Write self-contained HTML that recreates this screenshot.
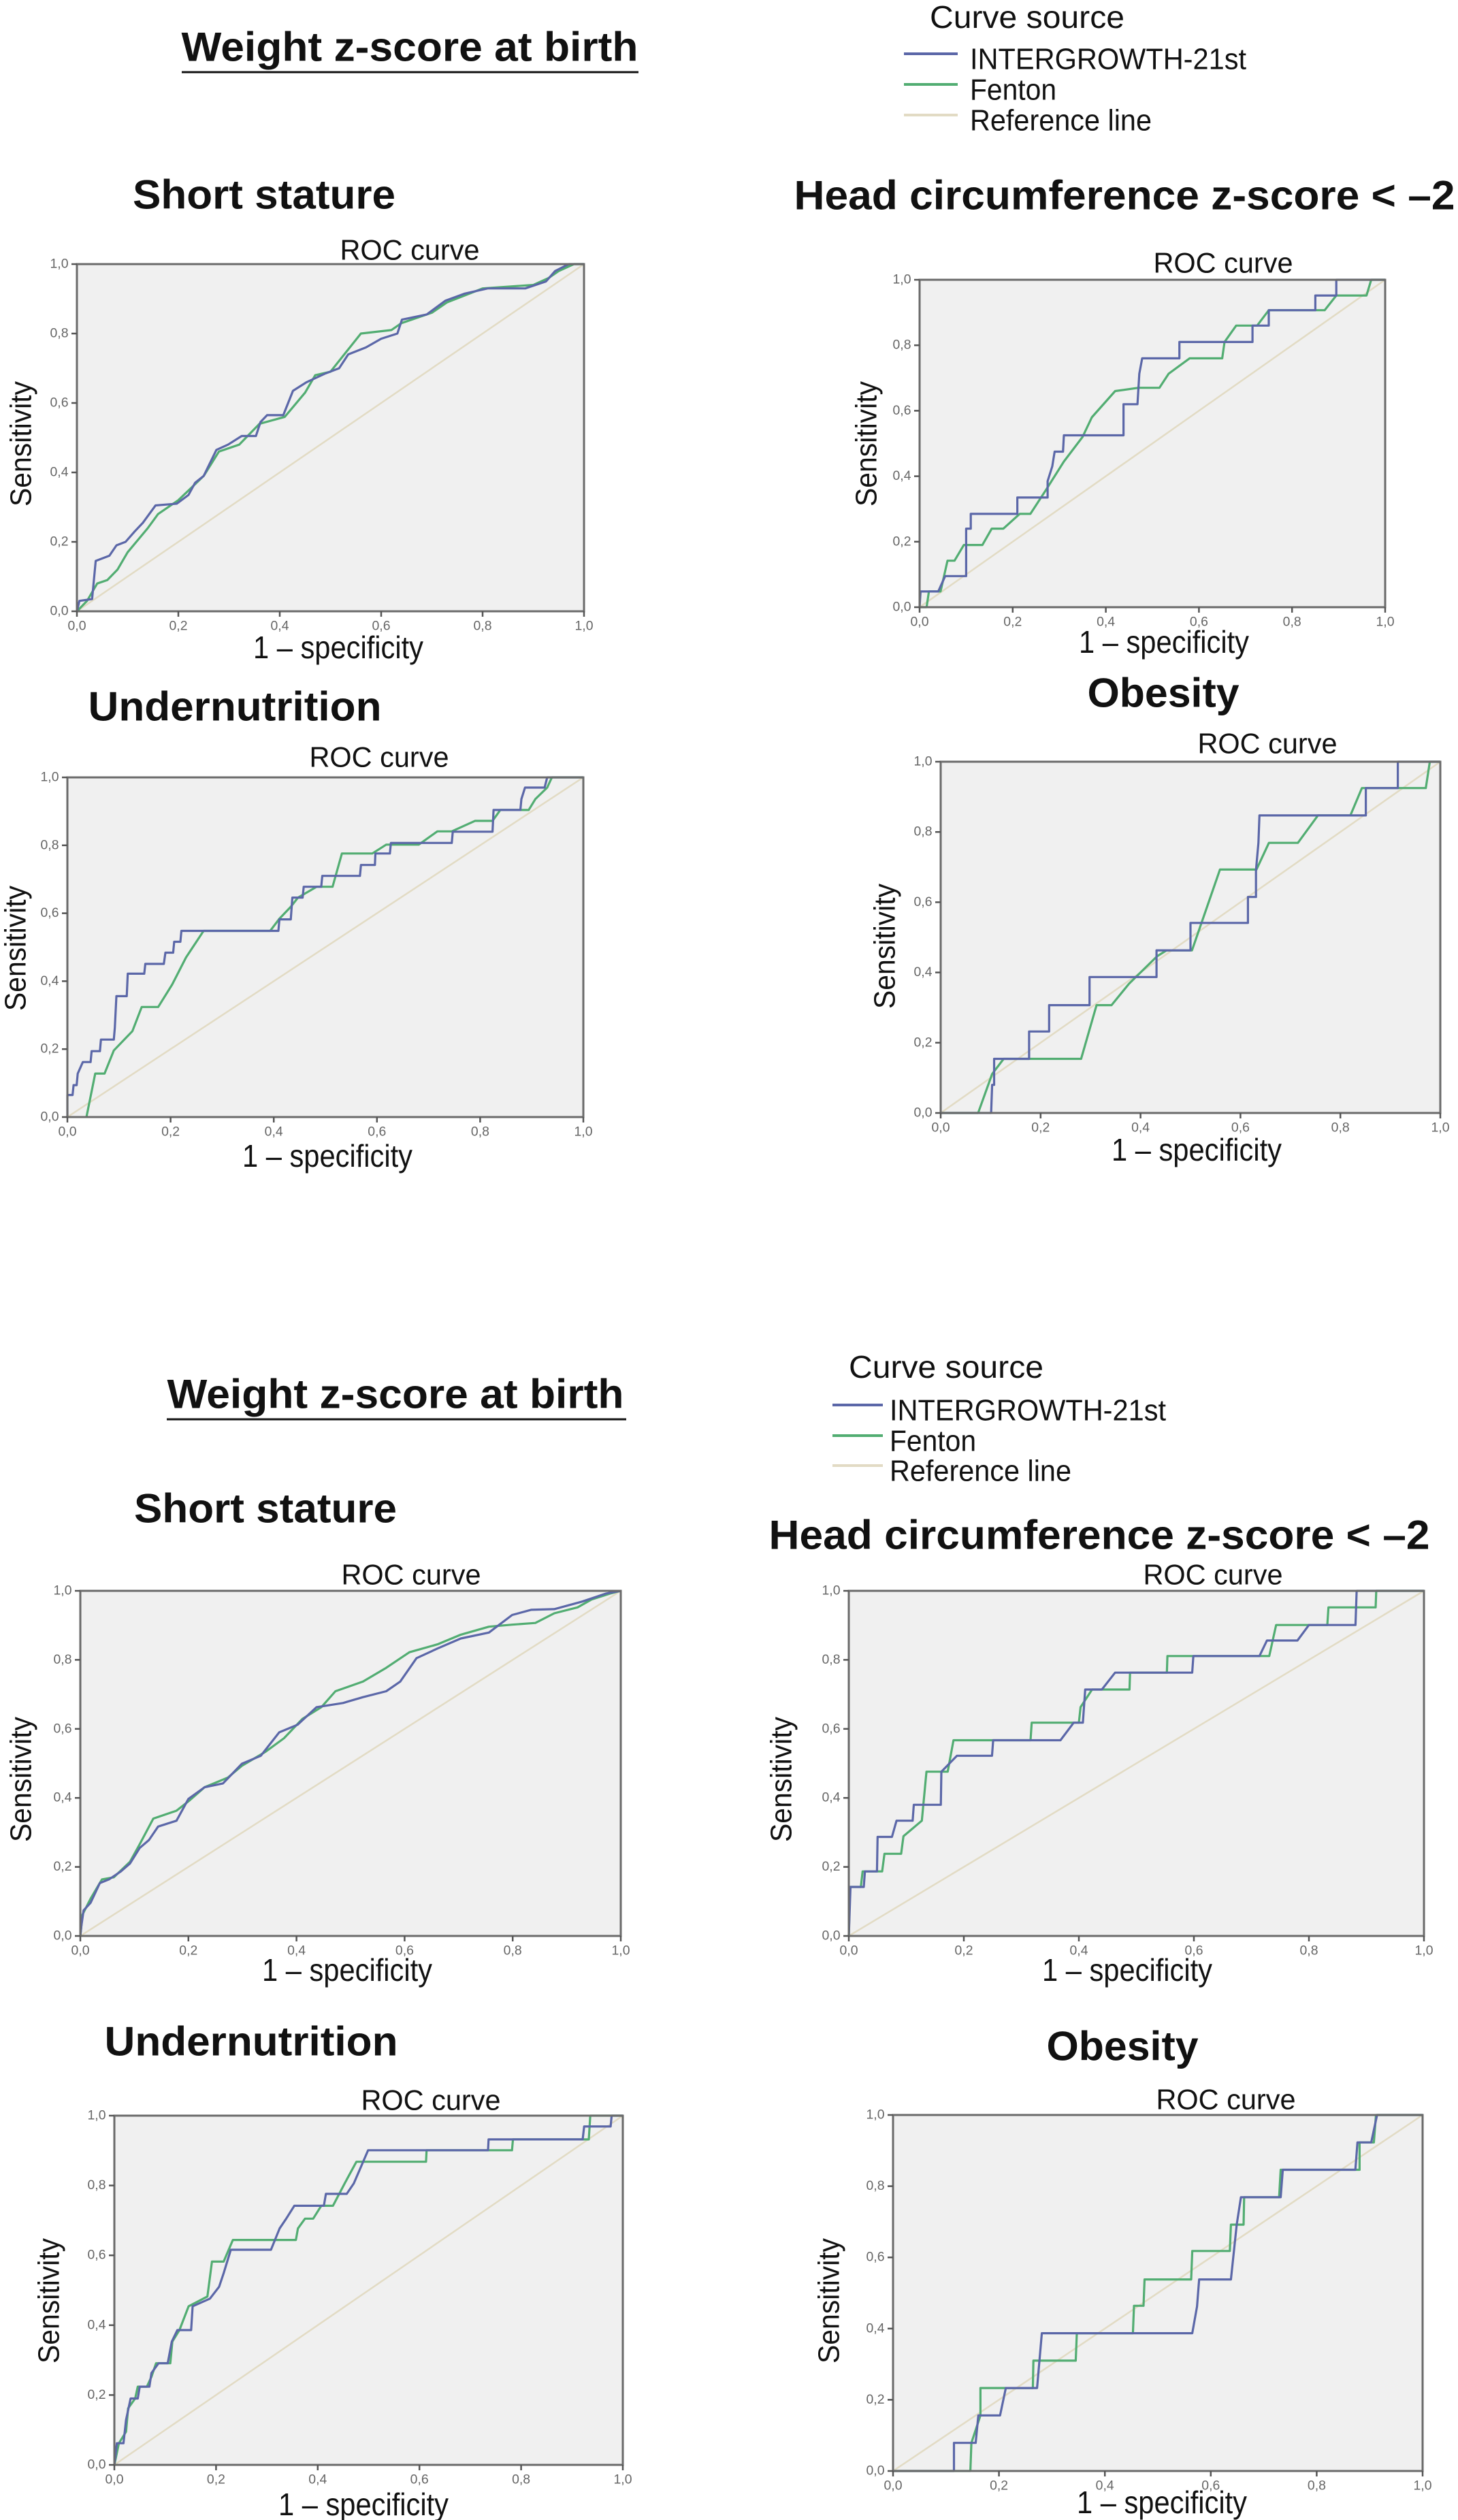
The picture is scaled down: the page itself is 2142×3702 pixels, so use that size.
<!DOCTYPE html>
<html><head><meta charset="utf-8">
<style>
html,body{margin:0;padding:0;background:#fff;}
svg{display:block;}
text{font-family:"Liberation Sans",Arial,sans-serif;}
</style></head>
<body>
<svg id="fig" xmlns="http://www.w3.org/2000/svg" width="2142" height="3702" viewBox="0 0 2142 3702">
  <rect x="0" y="0" width="2142" height="3702" fill="#fff"/>
</svg>
<script>
// ---- data: each panel has x and y arrays for INTERGROWTH (ig) and Fenton (fe) ----
const A_igX=[0,0.005,0.03,0.037,0.064,0.078,0.096,0.114,0.13,0.155,0.197,0.22,0.233,0.25,0.275,0.298,0.325,0.353,0.362,0.375,0.407,0.426,0.453,0.49,0.517,0.535,0.57,0.6,0.632,0.641,0.69,0.727,0.765,0.81,0.884,0.925,0.943,0.97,1];
const A_igY=[0,0.03,0.035,0.145,0.16,0.19,0.2,0.23,0.255,0.305,0.31,0.335,0.37,0.39,0.465,0.48,0.505,0.505,0.545,0.565,0.565,0.635,0.66,0.685,0.7,0.74,0.76,0.785,0.8,0.84,0.855,0.895,0.915,0.93,0.93,0.95,0.98,1,1];
const A_feX=[0,0.02,0.04,0.06,0.08,0.1,0.14,0.16,0.2,0.25,0.28,0.32,0.36,0.41,0.45,0.47,0.5,0.56,0.62,0.64,0.7,0.73,0.8,0.9,0.93,0.95,0.98,1];
const A_feY=[0,0.03,0.08,0.09,0.12,0.17,0.24,0.28,0.32,0.39,0.46,0.48,0.54,0.56,0.63,0.68,0.69,0.8,0.81,0.83,0.86,0.89,0.93,0.94,0.96,0.98,1,1];

const B_igX=[0,0.002,0.04,0.055,0.1,0.1,0.11,0.11,0.21,0.21,0.275,0.275,0.285,0.29,0.308,0.31,0.438,0.438,0.468,0.472,0.478,0.558,0.558,0.715,0.715,0.75,0.75,0.85,0.85,0.895,0.895,1];
const B_igY=[0,0.048,0.048,0.095,0.095,0.24,0.24,0.285,0.285,0.335,0.335,0.385,0.43,0.475,0.475,0.525,0.525,0.62,0.62,0.713,0.76,0.76,0.81,0.81,0.86,0.86,0.907,0.907,0.952,0.952,1,1];
const B_feX=[0,0.015,0.02,0.045,0.06,0.075,0.095,0.135,0.155,0.18,0.215,0.238,0.27,0.31,0.35,0.37,0.42,0.47,0.515,0.535,0.58,0.65,0.655,0.68,0.725,0.75,0.87,0.895,0.96,0.97,1];
const B_feY=[0,0,0.048,0.048,0.142,0.142,0.19,0.19,0.24,0.24,0.285,0.285,0.355,0.445,0.52,0.58,0.66,0.67,0.67,0.713,0.76,0.76,0.81,0.86,0.86,0.907,0.907,0.952,0.952,1,1];

const C_igX=[0,0,0.01,0.012,0.018,0.02,0.03,0.045,0.047,0.063,0.065,0.09,0.092,0.095,0.115,0.117,0.149,0.151,0.187,0.19,0.205,0.207,0.219,0.221,0.409,0.411,0.433,0.436,0.456,0.458,0.492,0.494,0.567,0.569,0.596,0.597,0.625,0.627,0.745,0.747,0.824,0.826,0.878,0.88,0.887,0.925,0.93,1];
const C_igY=[0,0.065,0.065,0.094,0.094,0.128,0.162,0.162,0.194,0.194,0.228,0.228,0.263,0.356,0.356,0.422,0.422,0.451,0.451,0.484,0.484,0.516,0.516,0.548,0.548,0.582,0.582,0.646,0.646,0.678,0.678,0.71,0.71,0.742,0.742,0.776,0.776,0.807,0.807,0.84,0.84,0.904,0.904,0.936,0.97,0.97,1,1];
const C_feX=[0.037,0.054,0.072,0.09,0.126,0.144,0.176,0.203,0.23,0.264,0.393,0.411,0.433,0.447,0.483,0.514,0.532,0.591,0.618,0.681,0.717,0.745,0.79,0.824,0.839,0.894,0.907,0.93,0.939,1];
const C_feY=[0,0.128,0.128,0.196,0.253,0.324,0.324,0.39,0.47,0.548,0.548,0.584,0.619,0.646,0.678,0.678,0.776,0.776,0.802,0.802,0.841,0.841,0.872,0.872,0.904,0.904,0.936,0.97,1,1];

const D_igX=[0,0.101,0.103,0.107,0.107,0.177,0.177,0.217,0.217,0.298,0.298,0.432,0.432,0.5,0.5,0.615,0.615,0.631,0.631,0.636,0.638,0.851,0.851,0.915,0.915,1];
const D_igY=[0,0,0.08,0.08,0.154,0.154,0.232,0.232,0.307,0.307,0.387,0.387,0.463,0.463,0.541,0.541,0.615,0.615,0.691,0.769,0.847,0.847,0.925,0.925,1,1];
const D_feX=[0,0.075,0.103,0.126,0.281,0.312,0.342,0.377,0.433,0.452,0.503,0.559,0.632,0.657,0.715,0.755,0.82,0.843,0.971,0.979,1];
const D_feY=[0,0,0.111,0.154,0.154,0.307,0.307,0.368,0.446,0.463,0.463,0.693,0.693,0.769,0.769,0.847,0.847,0.925,0.925,1,1];

const E_igX=[0,0.002,0.006,0.019,0.036,0.053,0.075,0.092,0.11,0.127,0.144,0.178,0.2,0.23,0.264,0.299,0.334,0.368,0.402,0.437,0.486,0.523,0.566,0.592,0.622,0.661,0.704,0.756,0.799,0.834,0.877,0.929,0.972,1];
const E_igY=[0,0.03,0.074,0.096,0.153,0.164,0.187,0.21,0.255,0.278,0.317,0.334,0.397,0.431,0.442,0.499,0.522,0.59,0.612,0.663,0.675,0.692,0.709,0.737,0.805,0.833,0.862,0.879,0.93,0.945,0.947,0.969,0.992,1];
const E_feX=[0,0.004,0.019,0.04,0.062,0.092,0.11,0.135,0.178,0.2,0.23,0.273,0.299,0.342,0.377,0.411,0.446,0.472,0.523,0.566,0.609,0.661,0.704,0.756,0.799,0.842,0.877,0.92,0.946,0.98,1];
const E_feY=[0,0.062,0.108,0.164,0.17,0.215,0.266,0.34,0.363,0.39,0.431,0.459,0.493,0.533,0.573,0.629,0.663,0.709,0.737,0.777,0.822,0.845,0.873,0.896,0.902,0.907,0.935,0.952,0.975,0.992,1];

const F_igX=[0,0.003,0.026,0.028,0.049,0.05,0.075,0.083,0.111,0.113,0.16,0.161,0.188,0.249,0.251,0.368,0.391,0.407,0.411,0.44,0.463,0.597,0.599,0.714,0.727,0.78,0.8,0.881,0.883,1];
const F_igY=[0,0.142,0.142,0.187,0.187,0.287,0.287,0.334,0.334,0.38,0.38,0.476,0.522,0.522,0.567,0.567,0.618,0.618,0.714,0.714,0.763,0.763,0.811,0.811,0.856,0.856,0.901,0.901,1,1];
const F_feX=[0,0.002,0.021,0.024,0.058,0.062,0.091,0.095,0.127,0.135,0.172,0.182,0.316,0.318,0.4,0.403,0.423,0.488,0.489,0.553,0.554,0.731,0.743,0.832,0.834,0.916,0.917,1];
const F_feY=[0,0.142,0.142,0.187,0.187,0.238,0.238,0.289,0.334,0.476,0.476,0.567,0.567,0.618,0.618,0.663,0.714,0.714,0.763,0.763,0.811,0.811,0.901,0.901,0.952,0.952,1,1];

const G_igX=[0,0.005,0.018,0.023,0.032,0.046,0.05,0.069,0.073,0.087,0.105,0.113,0.124,0.151,0.154,0.188,0.206,0.215,0.229,0.308,0.325,0.338,0.354,0.412,0.416,0.457,0.471,0.499,0.735,0.736,0.921,0.924,0.976,0.978,1];
const G_igY=[0,0.062,0.062,0.129,0.19,0.19,0.224,0.224,0.263,0.291,0.291,0.353,0.386,0.386,0.454,0.476,0.51,0.549,0.616,0.616,0.677,0.705,0.742,0.742,0.776,0.776,0.806,0.901,0.901,0.932,0.932,0.969,0.969,1,1];
const G_feX=[0,0.009,0.023,0.027,0.041,0.046,0.064,0.073,0.082,0.11,0.114,0.128,0.146,0.183,0.192,0.215,0.233,0.357,0.361,0.375,0.391,0.407,0.43,0.453,0.476,0.613,0.614,0.782,0.784,0.933,0.936,1];
const G_feY=[0,0.062,0.095,0.162,0.19,0.224,0.224,0.252,0.291,0.291,0.353,0.386,0.454,0.482,0.582,0.582,0.644,0.644,0.677,0.705,0.705,0.742,0.742,0.806,0.868,0.868,0.901,0.901,0.932,0.932,1,1];

const H_igX=[0,0.115,0.115,0.156,0.161,0.202,0.213,0.272,0.281,0.565,0.574,0.578,0.638,0.649,0.657,0.732,0.736,0.873,0.877,0.903,0.914,1];
const H_igY=[0,0,0.079,0.079,0.156,0.156,0.233,0.233,0.387,0.387,0.462,0.538,0.538,0.692,0.769,0.769,0.846,0.846,0.923,0.923,1,1];
const H_feX=[0,0.146,0.148,0.165,0.165,0.264,0.265,0.345,0.347,0.453,0.455,0.473,0.475,0.563,0.565,0.636,0.638,0.662,0.663,0.729,0.732,0.881,0.881,0.908,0.912,1];
const H_feY=[0,0,0.079,0.156,0.233,0.233,0.31,0.31,0.387,0.387,0.464,0.464,0.538,0.538,0.618,0.618,0.692,0.692,0.769,0.769,0.846,0.846,0.923,0.923,1,1];

const tickVals=[0,0.2,0.4,0.6,0.8,1.0];
const tickLabels=["0,0","0,2","0,4","0,6","0,8","1,0"];
const legendLabels=["INTERGROWTH-21st","Fenton","Reference line"];

// ---- layout ----
const NS="http://www.w3.org/2000/svg";
const svg=document.getElementById('fig');
const BLUE="#5b67a8", GREEN="#52ad72", REF="#e2dbc4";
function mk(tag,attrs,parent){const e=document.createElementNS(NS,tag);for(const k in attrs)e.setAttribute(k,attrs[k]);(parent||svg).appendChild(e);return e;}
function txt(s,x,y,size,len,opts,parent){
  const t=mk('text',Object.assign({x:x,y:y,'font-size':size,'text-anchor':'middle','dominant-baseline':'central',fill:'#111',textLength:len,lengthAdjust:'spacingAndGlyphs'},opts||{}),parent);
  t.textContent=s;return t;
}

const panels=[
 {id:'short-stature-1',title:'Short stature',tx:388,ty:286,tw:386,x0:113,x1:858,y0:388,y1:898,roc:[602,367],sens:[31,652],spec:[497,951],igX:A_igX,igY:A_igY,feX:A_feX,feY:A_feY},
 {id:'head-circumference-1',title:'Head circumference z-score < \u20132',tx:1652,ty:287,tw:971,x0:1351,x1:2035,y0:411,y1:892,roc:[1797,386],sens:[1273,652],spec:[1710,943],igX:B_igX,igY:B_igY,feX:B_feX,feY:B_feY},
 {id:'undernutrition-1',title:'Undernutrition',tx:345,ty:1038,tw:431,x0:99,x1:857,y0:1142,y1:1641,roc:[557,1112],sens:[23,1393],spec:[481,1698],igX:C_igX,igY:C_igY,feX:C_feX,feY:C_feY},
 {id:'obesity-1',title:'Obesity',tx:1709,ty:1018,tw:223,x0:1382,x1:2116,y0:1119,y1:1635,roc:[1862,1092],sens:[1300,1390],spec:[1758,1689],igX:D_igX,igY:D_igY,feX:D_feX,feY:D_feY},
 {id:'short-stature-2',title:'Short stature',tx:390,ty:2216,tw:386,x0:118,x1:912,y0:2337,y1:2844,roc:[604,2313],sens:[31,2614],spec:[510,2894],igX:E_igX,igY:E_igY,feX:E_feX,feY:E_feY},
 {id:'head-circumference-2',title:'Head circumference z-score < \u20132',tx:1615,ty:2255,tw:971,x0:1247,x1:2092,y0:2337,y1:2844,roc:[1782,2313],sens:[1148,2614],spec:[1656,2894],igX:F_igX,igY:F_igY,feX:F_feX,feY:F_feY},
 {id:'undernutrition-2',title:'Undernutrition',tx:369,ty:2999,tw:431,x0:168,x1:915,y0:3108,y1:3621,roc:[633,3085],sens:[72,3380],spec:[534,3679],igX:G_igX,igY:G_igY,feX:G_feX,feY:G_feY},
 {id:'obesity-2',title:'Obesity',tx:1649,ty:3006,tw:223,x0:1312,x1:2090,y0:3107,y1:3630,roc:[1801,3084],sens:[1218,3380],spec:[1707,3676],igX:H_igX,igY:H_igY,feX:H_feX,feY:H_feY}
];

// headers + legends
[{cx:602,cy:69,ul:106,u0:267,u1:938,lx:1366,ly:25,ey:[87,132,177],l0:1328,l1:1407,tx:1425,n:'1'},
 {cx:581,cy:2048,ul:2085,u0:245,u1:920,lx:1247,ly:2008,ey:[2072,2117,2161],l0:1223,l1:1297,tx:1307,n:'2'}].forEach(h=>{
  const t=txt('Weight z-score at birth',h.cx,h.cy,60,671,{'font-weight':'bold'});
  
  
  const u=mk('line',{x1:h.u0,x2:h.u1,y1:h.ul,y2:h.ul,stroke:'#111','stroke-width':3});
  
  
  const g=mk('g',{});
  
  
  const lt=txt('Curve source',h.lx,h.ly,46,286,{'text-anchor':'start'},g);
  
  
  const cols=[BLUE,GREEN,REF], lens=[406,127,267];
  legendLabels.forEach((lab,i)=>{
    const ln=mk('line',{x1:h.l0,x2:h.l1,y1:h.ey[i]-8,y2:h.ey[i]-8,stroke:cols[i],'stroke-width':4},g);
    
    
    const e=txt(lab,h.tx,h.ey[i],44,lens[i],{'text-anchor':'start'},g);
    
    
  });
});

panels.forEach(p=>{
  const g=mk('g',{});
  
  
  const sx=v=>p.x0+v*(p.x1-p.x0);
  const sy=v=>p.y1-v*(p.y1-p.y0);
  const tt=txt(p.title,p.tx,p.ty,60,p.tw,{'font-weight':'bold'},g);
  
  
  const rt=txt('ROC curve',p.roc[0],p.roc[1],42,205,{},g);
  
  
  const bg=mk('rect',{x:p.x0,y:p.y0,width:p.x1-p.x0,height:p.y1-p.y0,fill:'#f0f0f0',stroke:'none'},g);
  
  
  const ref=mk('line',{x1:sx(0),y1:sy(0),x2:sx(1),y2:sy(1),stroke:REF,'stroke-width':2.5},g);
  
  
  [[p.feX,p.feY,GREEN,'fenton-curve'],[p.igX,p.igY,BLUE,'intergrowth-curve']].forEach(s=>{
    const pts=s[0].map((x,i)=>sx(x).toFixed(1)+','+sy(s[1][i]).toFixed(1)).join(' ');
    const pl=mk('polyline',{points:pts,fill:'none',stroke:s[2],'stroke-width':3.2,'stroke-linejoin':'round'},g);
    
    
  });
  const fr=mk('rect',{x:p.x0,y:p.y0,width:p.x1-p.x0,height:p.y1-p.y0,fill:'none',stroke:'#6a6a6a','stroke-width':3},g);
  
  
  tickVals.forEach((v,i)=>{
    const xt=mk('line',{x1:sx(v),x2:sx(v),y1:p.y1,y2:p.y1+8,stroke:'#555','stroke-width':2.5},g);
    
    
    const xl=txt(tickLabels[i],sx(v),p.y1+22,19,27,{fill:'#666'},g);
    
    
    const yt=mk('line',{x1:p.x0-8,x2:p.x0,y1:sy(v),y2:sy(v),stroke:'#555','stroke-width':2.5},g);
    
    
    const yl=txt(tickLabels[i],p.x0-26,sy(v),19,27,{fill:'#666'},g);
    
    
  });
  const st=txt('Sensitivity',p.sens[0],p.sens[1],44,184,{transform:'rotate(-90 '+p.sens[0]+' '+p.sens[1]+')'},g);
  
  
  const xs=txt('1 \u2013 specificity',p.spec[0],p.spec[1],46,250,{},g);
  
  
});
</script>
</body></html>
